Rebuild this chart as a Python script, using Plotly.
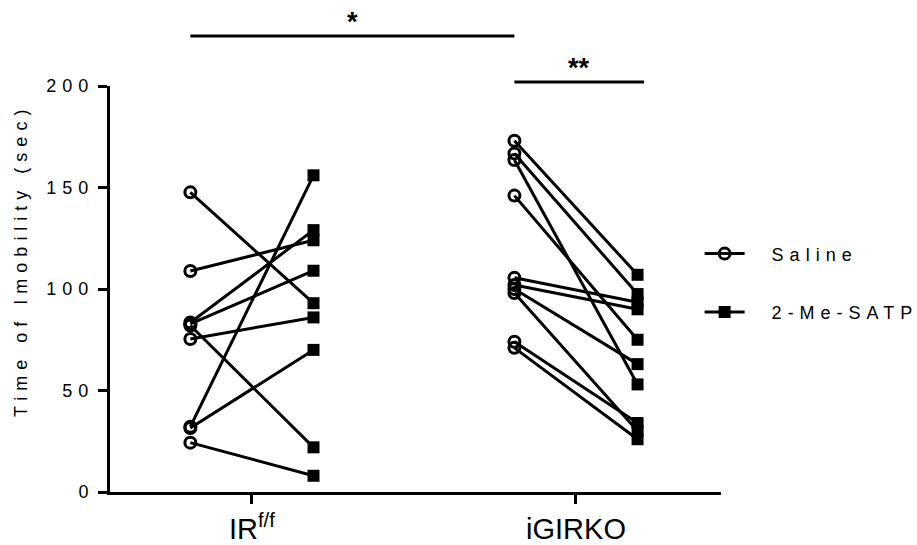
import plotly.graph_objects as go

# ---------------- data ----------------
groups = ["IR<sup>f/f</sup>", "iGIRKO"]
series = ["Saline", "2-Me-SATP"]
y_ticks = [0, 50, 100, 150, 200]
y_title = "Time of Imobility (sec)"

ir_saline = [147.6, 108.9, 83.5, 82.8, 82.0, 75.4, 32.2, 31.5, 24.3]
ir_drug   = [93.0, 124.0, 129.0, 109.0, 22.0, 86.0, 156.0, 70.0, 8.0]
ko_saline = [173.0, 166.8, 163.5, 146.0, 105.5, 102.0, 100.0, 98.0, 74.0, 71.0]
ko_drug   = [107.0, 97.5, 53.0, 75.0, 93.5, 90.0, 63.0, 30.0, 34.0, 26.0]

sig_labels = ["*", "**"]

# ---------------- layout helpers ----------------
offset = 0.19
FONT = "Liberation Sans, Arial, sans-serif"

pairs = [(0, ir_saline, ir_drug), (1, ko_saline, ko_drug)]

line_x, line_y = [], []
sal_x, sal_y, drg_x, drg_y = [], [], [], []
for g, sal, drg in pairs:
    for a, b in zip(sal, drg):
        line_x += [g - offset, g + offset, None]
        line_y += [a, b, None]
        sal_x.append(g - offset); sal_y.append(a)
        drg_x.append(g + offset); drg_y.append(b)

fig = go.Figure()
fig.add_trace(go.Scatter(x=line_x, y=line_y, mode="lines",
                         line=dict(color="black", width=3),
                         showlegend=False, hoverinfo="skip"))
fig.add_trace(go.Scatter(x=sal_x, y=sal_y, mode="markers",
                         marker=dict(symbol="circle-open", size=11, color="black",
                                     line=dict(color="black", width=3)),
                         showlegend=False))
fig.add_trace(go.Scatter(x=drg_x, y=drg_y, mode="markers",
                         marker=dict(symbol="square", size=12, color="black"),
                         showlegend=False))

# legend-only entries
fig.add_trace(go.Scatter(x=[None], y=[None], mode="lines+markers", name=series[0],
                         legendgroup="a",
                         line=dict(color="black", width=3),
                         marker=dict(symbol="circle-open", size=11, color="black",
                                     line=dict(color="black", width=3))))
fig.add_trace(go.Scatter(x=[None], y=[None], mode="lines+markers", name=series[1],
                         legendgroup="b",
                         line=dict(color="black", width=3),
                         marker=dict(symbol="square", size=12, color="black")))

# significance bars
bars = [
    (0 - offset, 1 - offset, 1.123, sig_labels[0], 1.116),
    (1 - offset, 1 + offset + 0.02, 1.010, sig_labels[1], 1.003),
]
for x0, x1, yb, lab, ylab in bars:
    fig.add_shape(type="line", xref="x", yref="paper", x0=x0, x1=x1, y0=yb, y1=yb,
                  line=dict(color="black", width=3))
    fig.add_annotation(x=(x0 + x1) / 2, y=ylab, xref="x", yref="paper",
                       text="<b>" + lab + "</b>", showarrow=False,
                       yanchor="bottom", font=dict(size=27, color="black", family=FONT))

# y-axis title as a rotated annotation (for exact placement)
fig.add_annotation(x=0, y=0.569, xref="paper", yref="paper", xshift=-89,
                   text=y_title, textangle=-90, showarrow=False,
                   xanchor="center", yanchor="middle",
                   font=dict(size=18, color="black", family=FONT))

fig.update_layout(
    width=917, height=545,
    margin=dict(l=110, r=196, t=86, b=53, autoexpand=False),
    paper_bgcolor="white", plot_bgcolor="white",
    font=dict(family=FONT, color="black"),
    xaxis=dict(range=[-0.438, 1.4475], tickvals=[0, 1], ticktext=groups,
               showline=True, linewidth=3, linecolor="black",
               ticks="outside", ticklen=9, tickwidth=3, tickcolor="black",
               tickfont=dict(size=29, family=FONT), showgrid=False, zeroline=False),
    yaxis=dict(range=[0, 200], tickvals=y_ticks,
               showline=True, linewidth=3, linecolor="black",
               ticks="outside", ticklen=9, tickwidth=3, tickcolor="black",
               tickfont=dict(size=18, family=FONT), showgrid=False, zeroline=False),
    legend=dict(x=0.965, y=0.632, xanchor="left", yanchor="top",
                font=dict(size=18, family=FONT), tracegroupgap=32, itemwidth=40,
                bgcolor="rgba(0,0,0,0)"),
)

post = """
document.body.style.margin = '0';
document.body.style.padding = '0';
var gd = document.getElementById('{plot_id}');
function sp(){
  gd.querySelectorAll('.ytick text, .annotation-text, .legendtext').forEach(function(t){
    if (t.textContent.indexOf('*') === -1) { t.style.letterSpacing = '6px'; }
  });
  gd.querySelectorAll('.legendtext').forEach(function(t){
    t.style.transform = 'translate(22px,0px)';
  });
  gd.querySelectorAll('.legend [clip-path]').forEach(function(e){
    e.removeAttribute('clip-path');
  });
}
sp();
gd.on('plotly_afterplot', sp);
"""
fig.write_html("out.html", post_script=post, config={"displayModeBar": False})
